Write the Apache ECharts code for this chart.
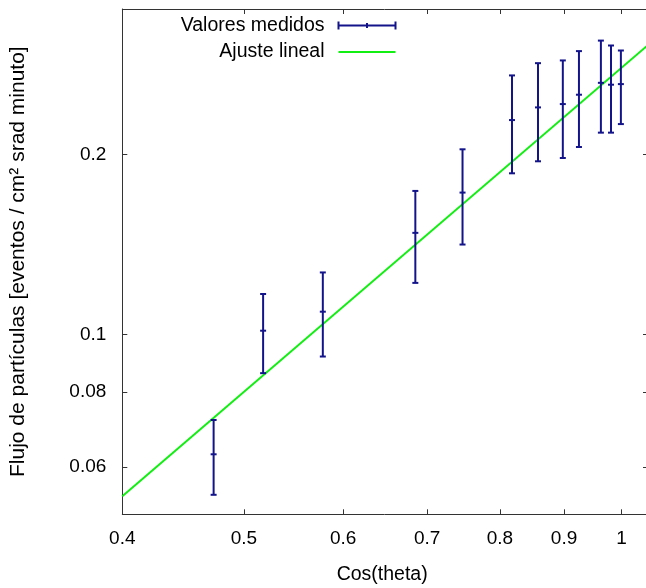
<!DOCTYPE html>
<html>
<head>
<meta charset="utf-8">
<script src="https://cdn.jsdelivr.net/npm/echarts@6/dist/echarts.min.js"></script>
<style>
html,body{margin:0;padding:0;background:#fff;}
#chart{width:646px;height:588px;}
</style>
</head>
<body>
<div id="chart"></div>
<script>
// ---- data ----
const cosTheta = [0.473, 0.518, 0.578, 0.685, 0.747, 0.818, 0.858, 0.898, 0.925, 0.963, 0.981, 0.999];
const flux     = [0.0630, 0.1014, 0.1091, 0.1478, 0.1726, 0.2282, 0.2396, 0.2427, 0.2516, 0.2634, 0.2615, 0.2621];
const fluxLow  = [0.0539, 0.0861, 0.0918, 0.1219, 0.1413, 0.1859, 0.1947, 0.1972, 0.2057, 0.2174, 0.2174, 0.2247];
const fluxHigh = [0.0719, 0.1168, 0.1269, 0.1737, 0.2039, 0.2710, 0.2841, 0.2871, 0.2976, 0.3099, 0.3041, 0.2983];
const fitX = [0.4, 1.05];
const fitY = [0.0536, 0.3046];
const xTicks = [0.4, 0.5, 0.6, 0.7, 0.8, 0.9, 1];
const yTicks = [0.06, 0.08, 0.1, 0.2];
const xName = 'Cos(theta)';
const yName = 'Flujo de partículas [eventos / cm² srad minuto]';
const seriesNames = ['Valores medidos', 'Ajuste lineal'];

const FONT = 'Liberation Sans';
const NAVY = '#13138a';
const GREEN = '#11ee11';
const AXIS = '#333333';

const errData = cosTheta.map((x, i) => [x, flux[i], fluxLow[i], fluxHigh[i]]);
const fitData = fitX.map((x, i) => [x, fitY[i]]);

const chart = echarts.init(document.getElementById('chart'), null, {renderer: 'canvas'});

const baseX = {
  type: 'log', logBase: 10, min: 0.4, max: 1.05,
  axisLine: {show: true, lineStyle: {color: AXIS, width: 1}},
  axisTick: {show: true, inside: true, length: 5, lineStyle: {color: AXIS}, customValues: xTicks},
  splitLine: {show: false}
};
const baseY = {
  type: 'log', logBase: 10, min: 0.05, max: 0.35,
  axisLine: {show: true, lineStyle: {color: AXIS, width: 1}},
  axisTick: {show: true, inside: true, length: 5, lineStyle: {color: AXIS}, customValues: yTicks},
  splitLine: {show: false}
};

const option = {
  animation: false,
  backgroundColor: '#ffffff',
  textStyle: {fontFamily: FONT},
  grid: {left: 122.3, top: 9, width: 525.7, height: 505.3, outerBoundsMode: 'none', containLabel: false},
  legend: {
    orient: 'vertical', align: 'right', right: 248, top: 15.5, padding: 0, itemGap: 6.5,
    itemWidth: 57, itemHeight: 8,
    textStyle: {fontFamily: FONT, fontSize: 19.5, color: '#000', padding: [0, 9, 0, 0]},
    data: [
      {name: seriesNames[0], icon: 'path://M0,0L0,8M0,4L57,4M57,0L57,8M28.5,1.5L28.5,6.5',
       itemStyle: {color: 'none', borderColor: NAVY, borderWidth: 2}},
      {name: seriesNames[1], icon: 'path://M0,0M0,8M0,4L57,4',
       itemStyle: {color: 'none', borderColor: GREEN, borderWidth: 2}}
    ]
  },
  xAxis: [
    Object.assign({}, baseX, {
      position: 'bottom',
      name: xName, nameLocation: 'middle', nameGap: 50,
      nameTextStyle: {fontFamily: FONT, fontSize: 19.5, color: '#000', padding: [0, 6, 0, 0]},
      axisLabel: {show: true, customValues: xTicks, margin: 14.5, fontFamily: FONT, fontSize: 19, color: '#000',
        formatter: v => String(+v.toFixed(2))}
    }),
    Object.assign({}, baseX, {position: 'top', axisLabel: {show: false}})
  ],
  yAxis: [
    Object.assign({}, baseY, {
      position: 'left',
      name: yName, nameLocation: 'middle', nameGap: 94,
      nameTextStyle: {fontFamily: FONT, fontSize: 21, color: '#000'},
      axisLabel: {show: true, customValues: yTicks, margin: 16, fontFamily: FONT, fontSize: 19, color: '#000',
        formatter: v => String(+v.toFixed(3))}
    }),
    Object.assign({}, baseY, {position: 'right', axisLabel: {show: false}})
  ],
  series: [
    {
      name: seriesNames[0],
      type: 'custom',
      xAxisIndex: 0, yAxisIndex: 0,
      data: errData,
      encode: {x: 0, y: [1, 2, 3]},
      itemStyle: {color: NAVY},
      z: 3,
      renderItem: function (params, api) {
        const x = api.value(0);
        const pMid = api.coord([x, api.value(1)]);
        const pLo = api.coord([x, api.value(2)]);
        const pHi = api.coord([x, api.value(3)]);
        const hw = 3;
        const st = {stroke: NAVY, lineWidth: 2, fill: null};
        return {
          type: 'group',
          children: [
            {type: 'line', shape: {x1: pLo[0], y1: pLo[1], x2: pHi[0], y2: pHi[1]}, style: st},
            {type: 'line', shape: {x1: pLo[0] - hw, y1: pLo[1], x2: pLo[0] + hw, y2: pLo[1]}, style: st},
            {type: 'line', shape: {x1: pHi[0] - hw, y1: pHi[1], x2: pHi[0] + hw, y2: pHi[1]}, style: st},
            {type: 'line', shape: {x1: pMid[0] - hw, y1: pMid[1], x2: pMid[0] + hw, y2: pMid[1]}, style: st}
          ]
        };
      }
    },
    {
      name: seriesNames[1],
      type: 'line',
      xAxisIndex: 0, yAxisIndex: 0,
      data: fitData,
      symbol: 'none', showSymbol: false,
      lineStyle: {color: GREEN, width: 2},
      itemStyle: {color: GREEN},
      z: 2
    }
  ]
};
chart.setOption(option);
</script>
</body>
</html>
